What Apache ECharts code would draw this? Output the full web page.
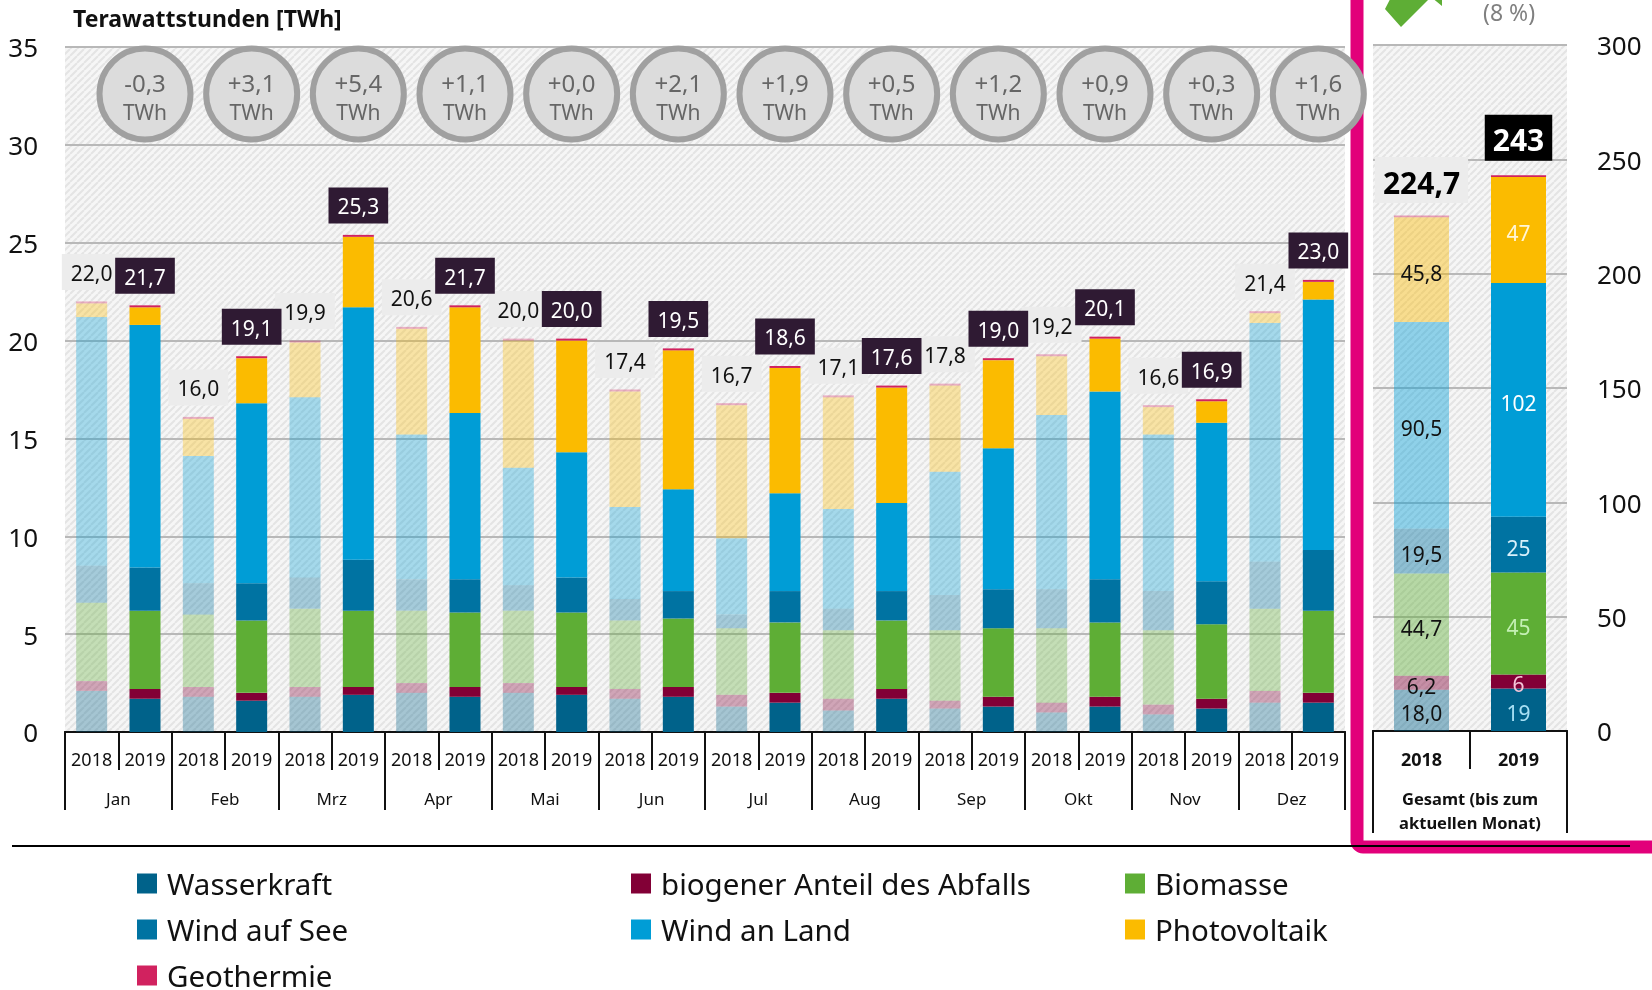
<!DOCTYPE html>
<html>
<head>
<meta charset="utf-8">
<style>
html, body { margin: 0; padding: 0; background: #fff; }
#chart { width: 1652px; height: 990px; }
</style>
<script src="https://cdn.jsdelivr.net/npm/echarts@6/dist/echarts.min.js"></script>
</head>
<body>
<div id="chart"></div>
<script>
const months = ["Jan", "Feb", "Mrz", "Apr", "Mai", "Jun", "Jul", "Aug", "Sep", "Okt", "Nov", "Dez"];
const years = months.flatMap(() => ["2018", "2019"]);

// monthly values, 2018 and 2019 alternating
const wasserkraft = [2.1, 1.7, 1.8, 1.6, 1.8, 1.9, 2.0, 1.8, 2.0, 1.9, 1.7, 1.8, 1.3, 1.5, 1.1, 1.7, 1.2, 1.3, 1.0, 1.3, 0.9, 1.2, 1.5, 1.5];
const abfall = [0.5, 0.5, 0.5, 0.4, 0.5, 0.4, 0.5, 0.5, 0.5, 0.4, 0.5, 0.5, 0.6, 0.5, 0.6, 0.5, 0.4, 0.5, 0.5, 0.5, 0.5, 0.5, 0.6, 0.5];
const biomasse = [4.0, 4.0, 3.7, 3.7, 4.0, 3.9, 3.7, 3.8, 3.7, 3.8, 3.5, 3.5, 3.4, 3.6, 3.5, 3.5, 3.6, 3.5, 3.8, 3.8, 3.8, 3.8, 4.2, 4.2];
const windSee = [1.9, 2.2, 1.6, 1.9, 1.6, 2.6, 1.6, 1.7, 1.3, 1.8, 1.1, 1.4, 0.7, 1.6, 1.1, 1.5, 1.8, 2.0, 2.0, 2.2, 2.0, 2.2, 2.4, 3.1];
const windLand = [12.7, 12.4, 6.5, 9.2, 9.2, 12.9, 7.4, 8.5, 6.0, 6.4, 4.7, 5.2, 3.9, 5.0, 5.1, 4.5, 6.3, 7.2, 8.9, 9.6, 8.0, 8.1, 12.2, 12.8];
const photovoltaik = [0.7, 0.9, 1.9, 2.3, 2.8, 3.6, 5.4, 5.4, 6.5, 5.7, 5.9, 7.1, 6.8, 6.4, 5.7, 5.9, 4.4, 4.5, 3.0, 2.7, 1.4, 1.1, 0.5, 0.9];
const geothermie = [0.1, 0.1, 0.1, 0.1, 0.1, 0.1, 0.1, 0.1, 0.1, 0.1, 0.1, 0.1, 0.1, 0.1, 0.1, 0.1, 0.1, 0.1, 0.1, 0.1, 0.1, 0.1, 0.1, 0.1];
const totals = [22.0, 21.7, 16.0, 19.1, 19.9, 25.3, 20.6, 21.7, 20.0, 20.0, 17.4, 19.5, 16.7, 18.6, 17.1, 17.6, 17.8, 19.0, 19.2, 20.1, 16.6, 16.9, 21.4, 23.0];
const changes = ["-0,3", "+3,1", "+5,4", "+1,1", "+0,0", "+2,1", "+1,9", "+0,5", "+1,2", "+0,9", "+0,3", "+1,6"];

// year totals: order as in names below
const gesamtYears = ["2018", "2019"];
const gesamt2018 = [18.0, 6.2, 44.7, 19.5, 90.5, 45.8, 0.7];
const gesamt2019 = [18.6, 6.1, 44.6, 24.4, 102.2, 46.4, 0.7];
const gesamtLabels2018 = ["18,0", "6,2", "44,7", "19,5", "90,5", "45,8", ""];
const gesamtLabels2019 = ["19", "6", "45", "25", "102", "47", ""];
const gesamtTotals = ["224,7", "243"];

const names = ["Wasserkraft", "biogener Anteil des Abfalls", "Biomasse", "Wind auf See", "Wind an Land", "Photovoltaik", "Geothermie"];
const colors = ["#00628a", "#820036", "#5eae35", "#0073a2", "#009dd6", "#fbbb00", "#d1225f"];
const labelColors2019 = ["#a8e0f4", "#f4c4d8", "#c4f0b4", "#d8f0fa", "#ffffff", "#fff6d8", "#ffffff"];
const monthly = [wasserkraft, abfall, biomasse, windSee, windLand, photovoltaik, geothermie];

const font = "Noto Sans";

const make_hatch = function () {
    const size = 7;
    const c = document.createElement("canvas");
    c.width = size;
    c.height = size;
    const ctx = c.getContext("2d");
    ctx.fillStyle = "#f6f6f6";
    ctx.fillRect(0, 0, size, size);
    ctx.strokeStyle = "#e4e4e4";
    ctx.lineWidth = 2;
    ctx.beginPath();
    for (let i = -size; i <= size * 2; i += size) {
        ctx.moveTo(i, size);
        ctx.lineTo(i + size, 0);
    }
    ctx.stroke();
    return { image: c, repeat: "repeat" };
};
const hatch = make_hatch();

const stack_top = function (i) {
    return monthly.reduce((sum, values) => sum + values[i], 0);
};

const monthly_series = names.map((name, s) => ({
    name: name,
    type: "bar",
    stack: "monat",
    xAxisIndex: 0,
    yAxisIndex: 0,
    barWidth: 31,
    itemStyle: { color: colors[s] },
    data: monthly[s].map((v, i) => ({
        value: v,
        itemStyle: { opacity: i % 2 === 0 ? 0.33 : 1 },
    })),
}));

const gesamt_series = names.map((name, s) => ({
    name: name,
    type: "bar",
    stack: "gesamt",
    xAxisIndex: 2,
    yAxisIndex: 1,
    barWidth: 55,
    itemStyle: { color: colors[s] },
    data: [
        {
            value: gesamt2018[s],
            itemStyle: { opacity: 0.42 },
            label: {
                show: true,
                opacity: 1,
                offset: [0, 5],
                formatter: gesamtLabels2018[s],
                color: "#111",
                fontFamily: font,
                fontSize: 21,
            },
        },
        {
            value: gesamt2019[s],
            label: {
                show: true,
                offset: [0, 5],
                formatter: gesamtLabels2019[s],
                color: labelColors2019[s],
                fontFamily: font,
                fontSize: 21,
            },
        },
    ],
}));

const total_label_series = function (year, style) {
    return {
        type: "scatter",
        xAxisIndex: 0,
        yAxisIndex: 0,
        symbolSize: 1,
        itemStyle: { color: "rgba(0,0,0,0)" },
        z: year === 0 ? 4 : 5,
        label: Object.assign({
            show: true,
            opacity: 1,
            position: "top",
            distance: 11,
            fontFamily: font,
            fontSize: 21,
            lineHeight: 24,
            padding: [9, 9, 3, 9],
            formatter: (p) => p.value[2].toFixed(1).replace(".", ","),
        }, style),
        data: totals
            .map((t, i) => [i, stack_top(i), t])
            .filter((d) => d[0] % 2 === year),
    };
};

const series = [
    ...monthly_series,
    ...gesamt_series,
    total_label_series(0, { color: "#111", backgroundColor: "#ececec" }),
    total_label_series(1, { color: "#fff", backgroundColor: "#2f1a33" }),
    {
        // change against the previous year, sits over the 2019 bars
        type: "scatter",
        xAxisIndex: 0,
        yAxisIndex: 0,
        symbolSize: 91,
        z: 6,
        itemStyle: { color: "#dcdcdc", borderColor: "#a0a0a0", borderWidth: 6, opacity: 1 },
        label: {
            show: true,
            opacity: 1,
            position: "inside",
            offset: [0, 6],
            color: "#666",
            fontFamily: font,
            formatter: (p) => "{a|" + changes[(p.value[0] - 1) / 2] + "}\n{b|TWh}",
            rich: {
                a: { fontFamily: font, fontSize: 24, lineHeight: 29, color: "#666" },
                b: { fontFamily: font, fontSize: 21, lineHeight: 29, color: "#666" },
            },
        },
        data: changes.map((c, i) => [i * 2 + 1, 32.6]),
    },
    {
        type: "scatter",
        xAxisIndex: 2,
        yAxisIndex: 1,
        symbolSize: 1,
        z: 5,
        itemStyle: { color: "rgba(0,0,0,0)" },
        label: {
            show: true,
            opacity: 1,
            position: "top",
            distance: 12,
            fontFamily: font,
            fontSize: 30,
            fontWeight: "bold",
            lineHeight: 34,
            padding: [11, 8, 1, 8],
            formatter: (p) => gesamtTotals[p.dataIndex],
        },
        data: [
            {
                value: [0, gesamt2018.reduce((a, b) => a + b, 0)],
                label: { color: "#000", backgroundColor: "#ececec" },
            },
            {
                value: [1, gesamt2019.reduce((a, b) => a + b, 0)],
                label: { color: "#fff", backgroundColor: "#000", distance: 14 },
            },
        ],
    },
];

const legend_column = function (left, data) {
    return {
        left: left,
        top: 865,
        height: 135,
        orient: "vertical",
        padding: 0,
        itemWidth: 20,
        itemHeight: 20,
        itemGap: 9,
        icon: "rect",
        selectedMode: false,
        formatter: (name) => "{t|" + name + "}",
        textStyle: {
            rich: {
                t: { fontFamily: font, fontSize: 29.5, lineHeight: 30, color: "#111", padding: [7, 0, 0, 5] },
            },
        },
        data: data,
    };
};

const tick_axis = function (grid, data, tick, label) {
    return {
        type: "category",
        gridIndex: grid,
        position: "bottom",
        data: data,
        axisLine: { show: true, lineStyle: { color: "#111", width: 2 } },
        axisTick: { show: true, length: tick, lineStyle: { color: "#111", width: 2 } },
        axisLabel: Object.assign({ interval: 0, color: "#111", fontFamily: font }, label),
    };
};

const y_axis = function (grid, pos, max, interval, margin) {
    return {
        type: "value",
        gridIndex: grid,
        position: pos,
        min: 0,
        max: max,
        interval: interval,
        axisLine: { show: false },
        axisTick: { show: false },
        axisLabel: {
            margin: margin,
            align: pos === "left" ? "right" : "left",
            formatter: (v) => "{a|" + v + "}",
            rich: {
                a: { color: "#111", fontFamily: font, fontSize: 26, padding: [6, 0, 0, 0] },
            },
        },
        splitLine: { show: true, lineStyle: { color: "#b8b8b8", width: 2 } },
    };
};

const option = {
    animation: false,
    backgroundColor: "#fff",
    title: {
        text: "Terawattstunden [TWh]",
        left: 68,
        top: 4,
        textStyle: { fontFamily: font, fontSize: 23, fontWeight: "bold", color: "#111" },
    },
    grid: [
        { left: 65, top: 47, width: 1280, height: 685, show: true, borderWidth: 0, backgroundColor: hatch },
        { left: 1373, top: 45, width: 194, height: 686, show: true, borderWidth: 0, backgroundColor: hatch },
    ],
    xAxis: [
        tick_axis(0, years, 38, { fontSize: 18, margin: 20 }),
        tick_axis(0, months, 78, { fontSize: 17, margin: 60 }),
        tick_axis(1, gesamtYears, 38, { fontSize: 18, fontWeight: "bold", margin: 21 }),
        tick_axis(1, ["Gesamt (bis zum\naktuellen Monat)"], 102, { fontSize: 16.5, fontWeight: "bold", lineHeight: 24, margin: 57 }),
    ],
    yAxis: [
        y_axis(0, "left", 35, 5, 27),
        y_axis(1, "right", 300, 50, 30),
    ],
    legend: [
        legend_column(137, ["Wasserkraft", "Wind auf See", "Geothermie"]),
        legend_column(631, ["biogener Anteil des Abfalls", "Wind an Land"]),
        legend_column(1125, ["Biomasse", "Photovoltaik"]),
    ],
    graphic: [
        {
            // frame around the year totals
            type: "rect",
            z: 1,
            shape: { x: 1357, y: -40, width: 1293, height: 887, r: 6 },
            style: { fill: "none", stroke: "#e2007a", lineWidth: 13 },
        },
        {
            type: "line",
            z: 10,
            shape: { x1: 12, y1: 846, x2: 1630, y2: 846 },
            style: { stroke: "#000", lineWidth: 2 },
        },
        {
            type: "polygon",
            z: 10,
            shape: { points: [[1385, 9], [1401, 27], [1431, -3], [1442, 6], [1442, -20], [1400, -20]] },
            style: { fill: "#5eae35" },
        },
        {
            type: "text",
            z: 10,
            x: 1483,
            y: 3,
            style: { text: "(8 %)", fontFamily: font, fontSize: 23, fill: "#808080" },
        },
    ],
    series: series,
};

const chart = echarts.init(document.getElementById("chart"));
chart.setOption(option);
</script>
</body>
</html>
